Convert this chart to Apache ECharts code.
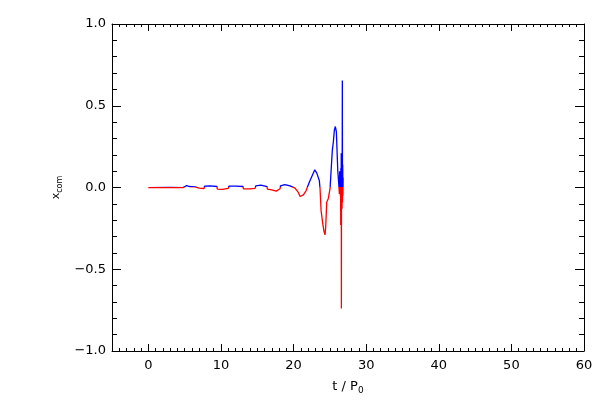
<!DOCTYPE html>
<html><head><meta charset="utf-8">
<script src="https://cdn.jsdelivr.net/npm/echarts@6/dist/echarts.min.js"></script>
<style>html,body{margin:0;padding:0;background:#fff}#c{width:600px;height:400px}</style>
</head><body><div id="c"></div>
<script>
const time = [0,0.25,0.3,3.0,3.05,4.78,4.85,5.3,5.6,6.43,6.5,7.0,7.2,7.67,7.75,8.5,9.46,9.5,10.2,11.0,11.1,12.0,13.04,13.1,14.0,14.7,14.8,15.5,16.35,16.4,17.0,17.6,18.14,18.2,18.8,19.52,20.2,20.66,20.9,21.35,21.72,21.9,22.27,22.64,22.92,23.2,23.55,23.65,23.79,24.02,24.2,24.34,24.43,24.57,24.79,25.03,25.12,25.34,25.48,25.62,25.76,25.9,26.09,26.23,26.31,26.35,26.38,26.41,26.44,26.47,26.5,26.52,26.55,26.57,26.59,26.61,26.64,26.66,26.68,26.7,26.72,26.74,26.77,26.8,26.83];
const xcom = [-0.001,-0.001,0.001,0.001,-0.001,-0.001,0.006,0.012,0.006,0.004,-0.008,-0.004,-0.008,-0.006,0.008,0.01,0.006,-0.01,-0.012,-0.006,0.008,0.009,0.006,-0.008,-0.009,-0.005,0.01,0.014,0.006,-0.01,-0.015,-0.022,-0.008,0.01,0.018,0.01,-0.004,-0.03,-0.055,-0.045,-0.02,0.001,0.043,0.08,0.108,0.088,0.043,-0.006,-0.14,-0.22,-0.27,-0.29,-0.24,-0.09,-0.067,-0.006,0.063,0.227,0.277,0.35,0.373,0.34,0.104,0.02,-0.04,0.1,-0.03,0.06,-0.05,0.09,-0.23,0.12,-0.1,0.21,-0.74,0.15,-0.06,0.2,-0.13,0.1,0.655,-0.09,0.14,-0.05,0.06];
const xMajor = [0,10,20,30,40,50,60];
const xMinor = [-4,-3,-2,-1,1,2,3,4,5,6,7,8,9,11,12,13,14,15,16,17,18,19,21,22,23,24,25,26,27,28,29,31,32,33,34,35,36,37,38,39,41,42,43,44,45,46,47,48,49,51,52,53,54,55,56,57,58,59];

const FONT = 'DejaVu Sans';
const chart = echarts.init(document.getElementById('c'), null, {renderer:'canvas'});
const lineStyle = {color:'#000', width:1};
function xAx(pos, major, showLabel, extra) {
  return Object.assign({
    type:'value', position:pos, min:-5, max:60,
    axisLine:{show:major, onZero:false, lineStyle},
    splitLine:{show:false},
    axisTick:{show:true, inside:true, length: major?7:3, lineStyle, customValues: major?xMajor:xMinor},
    axisLabel:{show:showLabel, customValues:xMajor, color:'#000', fontFamily:FONT, fontSize:13, margin:8}
  }, extra||{});
}
function yAx(pos, showLabel, extra) {
  return Object.assign({
    type:'value', position:pos, min:-1, max:1, interval:0.5,
    axisLine:{show:true, onZero:false, lineStyle},
    splitLine:{show:false},
    axisTick:{show:true, inside:true, length:9, lineStyle},
    minorTick:{show:true, splitNumber:5, length:5, lineStyle},
    axisLabel:{show:showLabel, color:'#000', fontFamily:FONT, fontSize:13, margin:6,
      formatter: v => (v<0?'\u2212':'') + Math.abs(v).toFixed(1)}
  }, extra||{});
}
chart.setOption({
  animation:false,
  backgroundColor:'#fff',
  grid:{left:112, right:16, top:24, bottom:49, containLabel:false},
  xAxis:[
    xAx('bottom', true, true, {name:'t / {s|P}{sub|0}', nameLocation:'middle', nameGap:27,
      nameTextStyle:{color:'#000', fontFamily:FONT, fontSize:13,
        rich:{s:{fontFamily:FONT,fontSize:13,color:'#000'}, sub:{fontFamily:FONT,fontSize:9,color:'#000',padding:[8,0,0,0]}}}}),
    xAx('bottom', false, false),
    xAx('top', true, false),
    xAx('top', false, false)
  ],
  yAxis:[
    yAx('left', true, {name:'x{sub|com}', nameLocation:'middle', nameGap:44, nameRotate:90,
      nameTextStyle:{color:'#000', fontFamily:FONT, fontSize:11,
        rich:{sub:{fontFamily:FONT,fontSize:8,color:'#000',padding:[7,0,0,0]}}}}),
    yAx('right', false)
  ],
  visualMap:{show:false, type:'piecewise', dimension:1, seriesIndex:0,
    pieces:[{gte:-2, lt:0, color:'#ff0000'},{gte:0, lte:2, color:'#0000ff'}]},
  series:[{
    type:'line', xAxisIndex:0, yAxisIndex:0, showSymbol:false, symbol:'none',
    lineStyle:{width:1.3}, data: time.map((t,i)=>[t, xcom[i]])
  }]
});
</script></body></html>
